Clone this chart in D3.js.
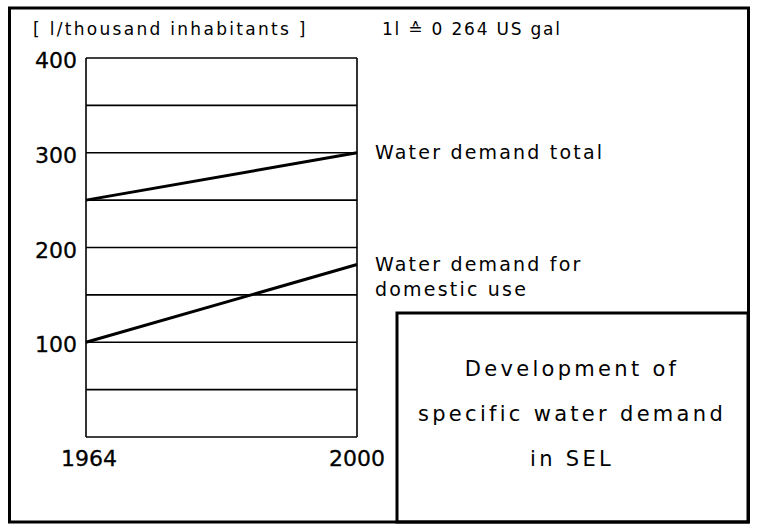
<!DOCTYPE html>
<html>
<head>
<meta charset="utf-8">
<script src="https://cdn.jsdelivr.net/npm/d3@7"></script>
<style>
	body { margin: 0; background: #fff; }
	svg text { font-family: "DejaVu Sans", sans-serif; fill: #000; }
</style>
</head>
<body>
<div id="chart"></div>
<script>

// Data
var years = [1964, 2000];
var totalDemand = [250, 300];
var domesticDemand = [100, 182];
var yTicks = [100, 200, 300, 400];
var gridValues = [0, 50, 100, 150, 200, 250, 300, 350, 400];
var seriesLabels = [["Water demand total"], ["Water demand for", "domestic use"]];
var titleLines = ["Development of", "specific water demand", "in SEL"];


var width = 758, height = 528;
var plot = {left: 86, right: 357, top: 58, bottom: 437};

var svg = d3.select('#chart').append('svg')
	.attr('width', width)
	.attr('height', height);

var x = d3.scaleLinear()
	.domain(d3.extent(years))
	.range([plot.left, plot.right]);

var y = d3.scaleLinear()
	.domain([0, 400])
	.range([plot.bottom, plot.top]);

// Outer frame
svg.append('rect')
	.attr('x', 9.5).attr('y', 8)
	.attr('width', 739).attr('height', 514)
	.attr('fill', 'none')
	.attr('stroke', '#000')
	.attr('stroke-width', 3);

// Grid lines
svg.append('g')
	.selectAll('line')
	.data(gridValues)
	.enter()
	.append('line')
	.attr('x1', plot.left).attr('x2', plot.right)
	.attr('y1', (d) => y(d)).attr('y2', (d) => y(d))
	.attr('stroke', '#000')
	.attr('stroke-width', 1.6);

// Side borders of plot
svg.append('g')
	.selectAll('line')
	.data(years)
	.enter()
	.append('line')
	.attr('x1', (d) => x(d)).attr('x2', (d) => x(d))
	.attr('y1', y(0)).attr('y2', y(400))
	.attr('stroke', '#000')
	.attr('stroke-width', 1.6);

// Y tick labels
svg.append('g')
	.selectAll('text')
	.data(yTicks)
	.enter()
	.append('text')
	.attr('x', 77)
	.attr('y', (d) => y(d) + 10)
	.attr('text-anchor', 'end')
	.style('font-size', '22px')
	.style('stroke', '#000')
	.style('stroke-width', 0.3)
	.text((d) => d);

// X tick labels
svg.append('g')
	.selectAll('text')
	.data(years)
	.enter()
	.append('text')
	.attr('x', (d, i) => x(d) + (i ? 0 : 3))
	.attr('y', 466)
	.attr('text-anchor', 'middle')
	.style('font-size', '22px')
	.style('stroke', '#000')
	.style('stroke-width', 0.3)
	.text((d) => d);

// Series lines
var line = d3.line()
	.x((d, i) => x(years[i]))
	.y((d) => y(d));

svg.append('g')
	.selectAll('path')
	.data([totalDemand, domesticDemand])
	.enter()
	.append('path')
	.attr('d', (d) => line(d))
	.attr('fill', 'none')
	.attr('stroke', '#000')
	.attr('stroke-width', 3);

// Series labels
var ends = [totalDemand[1], domesticDemand[1]];
seriesLabels.forEach(function(lines, k) {
	var t = svg.append('text')
		.attr('x', 375)
		.attr('y', y(ends[k]) + 6)
		.style('font-size', '19px')
		.style('letter-spacing', '2.2px');
	lines.forEach(function(s, j) {
		t.append('tspan')
			.attr('x', 375)
			.attr('dy', j ? 25 : 0)
			.text(s);
	});
});

// Header texts
svg.append('text')
	.attr('x', 33).attr('y', 35)
	.style('font-size', '17px')
	.style('letter-spacing', '2.3px')
	.text('[ l/thousand inhabitants ]');

svg.append('text')
	.attr('x', 382).attr('y', 35)
	.style('font-size', '17px')
	.style('letter-spacing', '1.8px')
	.text('1l \u2259 0 264 US gal');

// Title box
svg.append('rect')
	.attr('x', 397).attr('y', 313)
	.attr('width', 351).attr('height', 209)
	.attr('fill', 'none')
	.attr('stroke', '#000')
	.attr('stroke-width', 3);

svg.append('g')
	.selectAll('text')
	.data(titleLines)
	.enter()
	.append('text')
	.attr('x', 572)
	.attr('y', (d, i) => 376 + i * 45)
	.attr('text-anchor', 'middle')
	.style('font-size', '21px')
	.style('letter-spacing', '3.3px')
	.text((d) => d);

</script>
</body>
</html>
